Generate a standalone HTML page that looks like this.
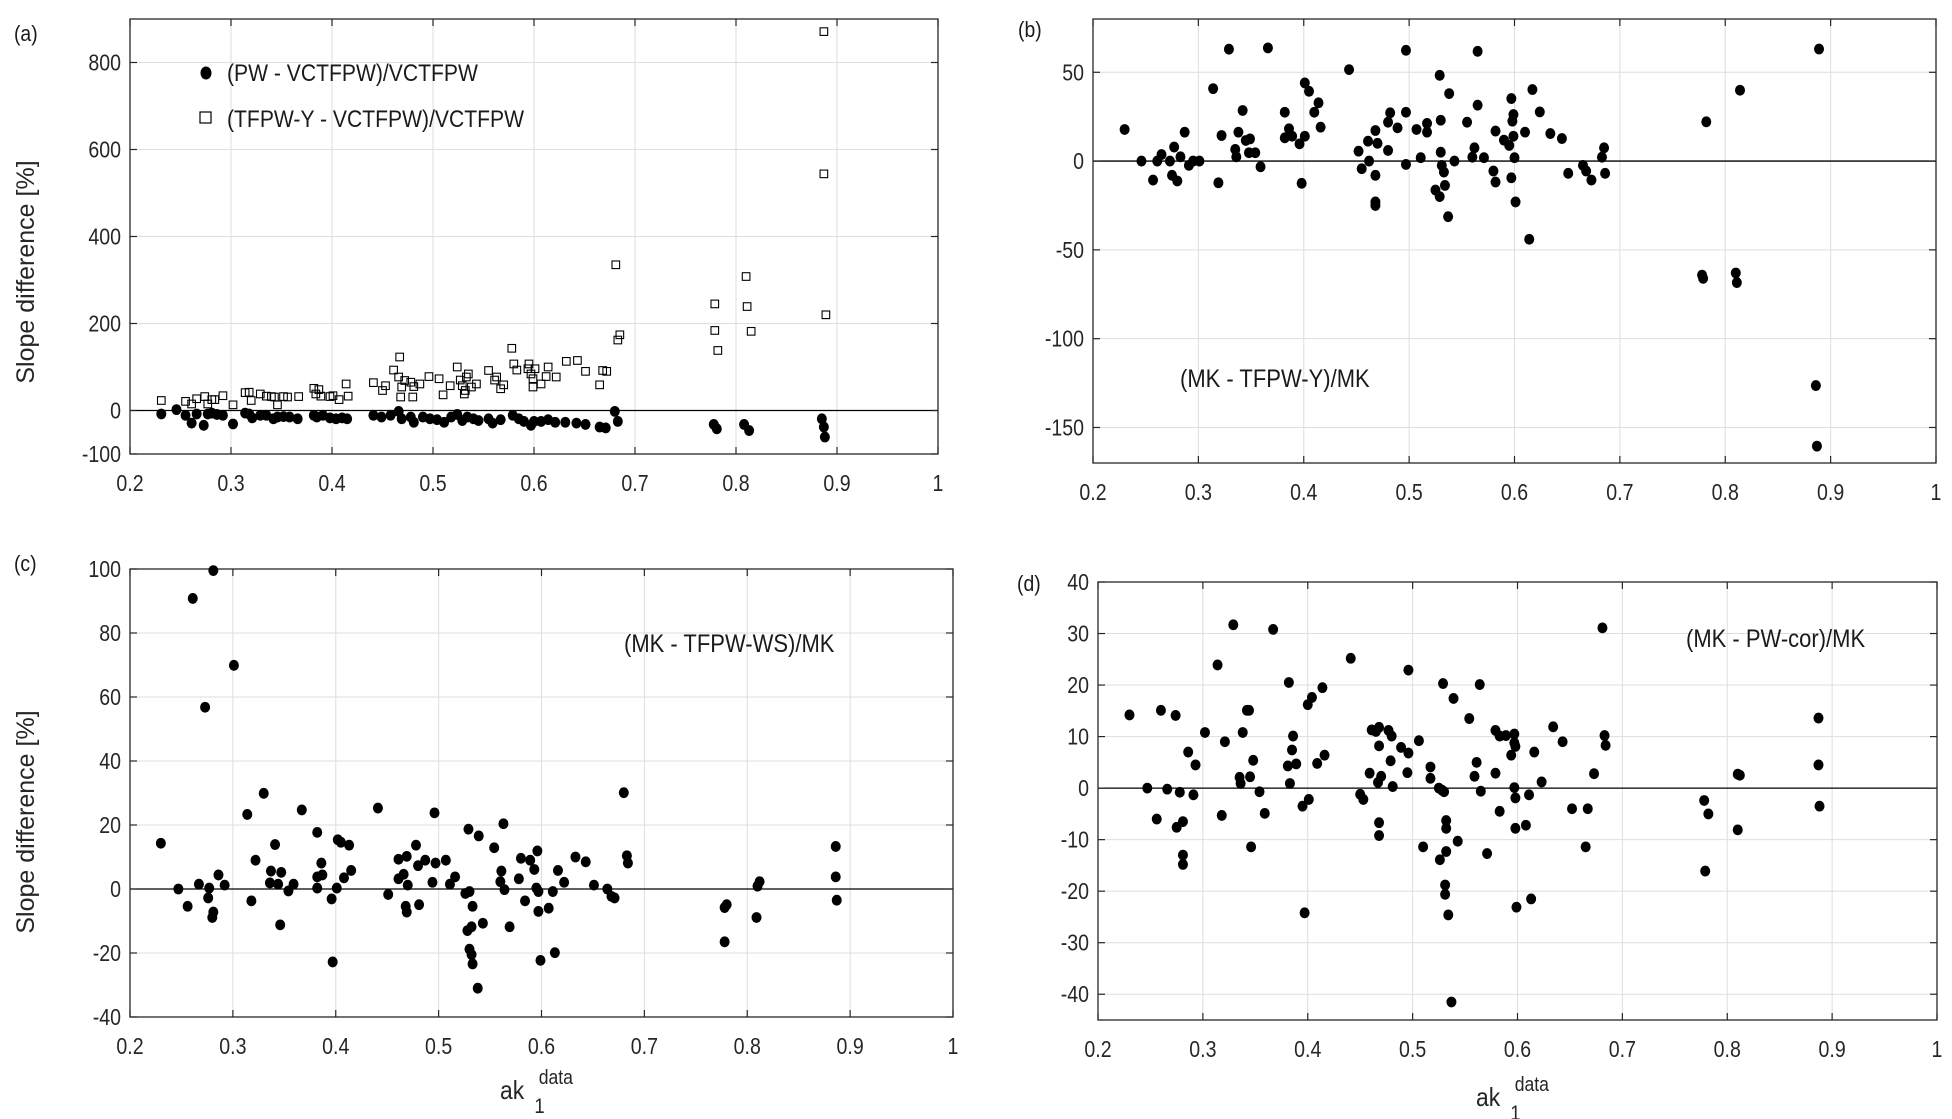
<!DOCTYPE html>
<html><head><meta charset="utf-8"><style>
html,body{margin:0;padding:0;background:#fff;}
svg{display:block;font-family:"Liberation Sans",Arial,sans-serif;}
</style></head><body>
<svg id="fig" width="1952" height="1119" viewBox="0 0 1952 1119" xmlns="http://www.w3.org/2000/svg">
<rect width="1952" height="1119" fill="#fff"/>
</svg>
<script>
// ---------- Data ----------
const aDotX=[.231,.246,.255,.261,.266,.273,.277,.281,.286,.292,.302,.314,.318,.321,.329,.335,.342,.346,.352,.358,.366,.382,.385,.391,.398,.404,.410,.415,.441,.449,.458,.466,.469,.478,.481,.490,.497,.504,.511,.518,.524,.529,.534,.540,.545,.555,.559,.567,.579,.585,.590,.597,.600,.607,.614,.621,.631,.642,.651,.665,.671,.680,.683,.778,.781,.808,.813,.885,.887,.888];
const aDotY=[-8,2,-11,-29,-8,-34,-8,-6,-9,-11,-31,-6,-8,-17,-11,-11,-19,-15,-14,-15,-19,-11,-15,-11,-17,-19,-17,-19,-11,-15,-11,-2,-19,-15,-27,-15,-19,-21,-27,-15,-9,-23,-15,-19,-23,-19,-29,-21,-11,-19,-25,-34,-25,-25,-21,-27,-27,-29,-32,-38,-40,-2,-25,-32,-42,-32,-46,-19,-38,-61];
const aSqX=[.231,.255,.261,.266,.274,.277,.281,.284,.292,.302,.314,.318,.320,.329,.335,.340,.343,.346,.352,.356,.367,.382,.384,.387,.389,.398,.401,.407,.414,.416,.441,.450,.453,.461,.466,.467,.468,.469,.472,.478,.480,.481,.487,.496,.506,.510,.517,.524,.527,.529,.531,.532,.533,.535,.538,.543,.555,.561,.563,.567,.570,.578,.580,.583,.594,.595,.597,.599,.599,.601,.607,.612,.614,.622,.632,.643,.651,.665,.668,.672,.681,.683,.685,.779,.779,.782,.810,.811,.815,.887,.887,.889];
const aSqY=[23,21,15,27,32,15,25,25,34,13,41,42,23,38,33,32,31,13,32,31,32,51,38,48,33,32,34,25,61,33,64,46,57,93,77,123,31,54,69,65,31,55,61,78,73,36,57,100,70,57,38,46,77,84,54,61,92,70,77,50,59,143,107,93,96,107,84,54,73,96,61,78,100,77,113,115,90,59,92,90,335,162,174,245,184,138,308,239,182,871,544,220];

const bX=[.230,.246,.257,.261,.265,.273,.275,.277,.280,.283,.287,.291,.295,.301,.314,.319,.322,.329,.335,.336,.338,.342,.345,.348,.349,.354,.359,.366,.382,.382,.386,.389,.396,.398,.401,.401,.405,.410,.414,.416,.443,.452,.455,.461,.462,.468,.468,.468,.468,.470,.480,.480,.482,.489,.497,.497,.497,.507,.511,.517,.517,.525,.529,.529,.530,.530,.531,.533,.534,.537,.538,.543,.555,.560,.562,.565,.565,.571,.580,.582,.582,.590,.595,.597,.597,.598,.599,.599,.600,.601,.610,.614,.617,.624,.634,.645,.651,.665,.668,.673,.683,.685,.686,.778,.779,.782,.810,.811,.814,.886,.887,.889];
const bY=[17.8,0,-10.7,0,3.7,0,-8,7.9,-11.2,2.4,16.3,-2.4,0,0,40.8,-12.2,14.4,63,6.6,2.4,16.3,28.5,11.6,4.7,12.5,4.7,-3.2,63.7,27.5,13.1,18.2,14,9.7,-12.5,14,44,39.3,27.5,32.8,19.1,51.5,5.6,-4.3,11.2,0,-8,17.2,-23,-25,10,6,21.9,27.2,18.7,-1.9,62.4,27.5,17.8,1.9,21.2,16.3,-16.3,-20,48.3,23,5,-2.4,-6.2,-13.7,-31.3,38,0,21.9,2.2,7.5,61.8,31.5,1.9,-5.6,16.9,-11.8,11.8,8.8,-9.4,35.2,22.5,26.2,14,1.9,-23,16.3,-44,40.3,27.7,15.5,12.7,-6.9,-2.4,-5.6,-10.7,2.2,7.5,-6.9,-64.2,-66,22.1,-63,-68.4,39.9,-126.4,-160.5,63.1];

const cX=[.230,.247,.256,.261,.267,.273,.276,.277,.280,.281,.281,.286,.292,.301,.314,.318,.322,.330,.336,.337,.341,.344,.346,.347,.354,.359,.367,.382,.382,.382,.386,.387,.396,.397,.401,.402,.405,.408,.413,.415,.441,.451,.461,.461,.466,.468,.469,.469,.470,.478,.480,.481,.487,.494,.496,.497,.507,.511,.516,.526,.528,.529,.530,.530,.532,.532,.533,.533,.539,.538,.543,.554,.560,.561,.563,.564,.569,.578,.580,.584,.589,.593,.595,.596,.597,.597,.599,.607,.611,.613,.616,.622,.633,.643,.651,.664,.668,.671,.680,.683,.684,.778,.778,.780,.809,.810,.812,.886,.886,.887];
const cY=[14.3,0,-5.4,90.8,1.5,56.8,-2.8,0.3,-8.9,-7.2,99.5,4.4,1.2,69.9,23.3,-3.7,9,29.9,1.9,5.6,13.9,1.5,-11.2,5.2,-0.6,1.5,24.7,0.3,17.7,3.8,8.1,4.4,-3.1,-22.8,0.3,15.4,14.6,3.5,13.7,5.8,25.3,-1.7,9.3,3.2,4.6,-5.4,-7.2,10.2,1.2,13.7,7.3,-4.9,9,2.1,23.8,8.1,9,1.5,3.8,-1.4,-13,18.7,-0.8,-18.8,-11.8,-20.5,-5.4,-23.4,16.6,-31,-10.7,12.9,2.3,5.6,20.4,-0.2,-11.8,3.2,9.6,-3.7,9,6.1,0.3,11.9,-0.8,-7,-22.3,-6,-0.8,-19.9,5.8,2.1,10,8.5,1.2,0,-2.3,-2.8,30.1,10.4,8.1,-16.5,-5.8,-4.9,-8.9,0.9,2.3,13.3,3.8,-3.5];

const dX=[.230,.247,.256,.260,.266,.274,.275,.278,.281,.281,.281,.286,.291,.293,.302,.314,.318,.321,.329,.335,.336,.338,.342,.344,.345,.346,.348,.354,.359,.367,.381,.382,.383,.385,.386,.389,.395,.397,.400,.401,.404,.409,.414,.416,.441,.450,.453,.459,.461,.465,.467,.468,.468,.468,.468,.470,.477,.479,.480,.481,.489,.495,.496,.496,.506,.510,.517,.517,.525,.526,.528,.529,.530,.531,.531,.532,.532,.532,.534,.537,.539,.543,.554,.559,.561,.564,.565,.571,.579,.579,.583,.583,.589,.594,.597,.597,.597,.598,.598,.598,.599,.608,.611,.613,.616,.623,.634,.643,.652,.665,.667,.673,.681,.683,.684,.778,.779,.782,.810,.810,.812,.887,.887,.888];
const dY=[14.2,0,-6,15.1,-0.2,14.1,-7.6,-0.8,-6.5,-13,-14.8,7,-1.3,4.5,10.8,23.9,-5.3,9,31.7,2.1,0.9,10.8,15.1,15.1,2.2,-11.4,5.4,-0.7,-4.9,30.8,4.3,20.5,0.9,7.4,10.1,4.7,-3.5,-24.2,16.2,-2.2,17.6,4.8,19.5,6.4,25.2,-1.2,-2.2,2.9,11.3,11,1.1,11.8,8.2,-6.7,-9.2,2.3,11.2,5.3,10.1,0.3,7.9,3,6.8,22.9,9.2,-11.4,4.1,1.9,0,-13.9,-0.4,20.3,-0.7,-18.8,-20.6,-6.3,-7.8,-12.3,-24.6,-41.5,17.4,-10.3,13.5,2.3,5,20.1,-0.6,-12.7,2.9,11.2,-4.5,10.1,10.2,6.4,8.8,10.5,0.1,8.1,-1.9,-7.8,-23.1,-7.2,-1.3,-21.5,7,1.2,11.9,9,-4,-11.4,-4,2.8,31.1,10.2,8.3,-2.4,-16.1,-5,-8.1,2.7,2.5,13.6,4.5,-3.5];

const xTicks=[0.2,0.3,0.4,0.5,0.6,0.7,0.8,0.9,1];
const xTickLabels=["0.2","0.3","0.4","0.5","0.6","0.7","0.8","0.9","1"];
const aYTicks=[-100,0,200,400,600,800];
const bYTicks=[-150,-100,-50,0,50];
const cYTicks=[-40,-20,0,20,40,60,80,100];
const dYTicks=[-40,-30,-20,-10,0,10,20,30,40];

// ---------- Drawing ----------
const NS="http://www.w3.org/2000/svg";
const svg=document.getElementById('fig');
function mk(tag,attrs,parent){const e=document.createElementNS(NS,tag);for(const k in attrs)e.setAttribute(k,attrs[k]);(parent||svg).appendChild(e);return e;}

function panel(id,box,ymin,ymax,yTicks){
  const g=mk('g',{});
  
  
  const sx=v=>box.x0+(v-0.2)/0.8*(box.x1-box.x0);
  const sy=v=>box.y1-(v-ymin)/(ymax-ymin)*(box.y1-box.y0);
  xTicks.forEach(t=>{if(t>0.2&&t<1){const l=mk('line',{x1:sx(t),x2:sx(t),y1:box.y0,y2:box.y1,stroke:'#dedede','stroke-width':1},g);
    
    }});
  yTicks.forEach(t=>{if(t>ymin&&t<ymax){const l=mk('line',{x1:box.x0,x2:box.x1,y1:sy(t),y2:sy(t),stroke:'#dedede','stroke-width':1},g);
    
    }});
  const z=mk('line',{x1:box.x0,x2:box.x1,y1:sy(0),y2:sy(0),stroke:'#000','stroke-width':1.3},g);
  
  
  const fr=mk('rect',{x:box.x0,y:box.y0,width:box.x1-box.x0,height:box.y1-box.y0,fill:'none',stroke:'#262626','stroke-width':1.3},g);
  
  
  xTicks.forEach((t,i)=>{
    mk('line',{x1:sx(t),x2:sx(t),y1:box.y1,y2:box.y1-7,stroke:'#262626','stroke-width':1.2},g);
    mk('line',{x1:sx(t),x2:sx(t),y1:box.y0,y2:box.y0+7,stroke:'#262626','stroke-width':1.2},g);
    const tx=mk('text',{x:sx(t),y:box.y1+37,'text-anchor':'middle','font-size':23,fill:'#262626',transform:'translate('+sx(t)+' 0) scale(0.85 1) translate('+(-sx(t))+' 0)'},g);
    tx.textContent=xTickLabels[i];
    
    
  });
  yTicks.forEach(t=>{
    mk('line',{x1:box.x0,x2:box.x0+7,y1:sy(t),y2:sy(t),stroke:'#262626','stroke-width':1.2},g);
    mk('line',{x1:box.x1,x2:box.x1-7,y1:sy(t),y2:sy(t),stroke:'#262626','stroke-width':1.2},g);
    const ax=box.x0-9;
    const tx=mk('text',{x:ax,y:sy(t)+8,'text-anchor':'end','font-size':23,fill:'#262626',transform:'translate('+ax+' 0) scale(0.85 1) translate('+(-ax)+' 0)'},g);
    tx.textContent=String(t);
    
    
  });
  return {g,sx,sy};
}
function dots(p,xs,ys){
  xs.forEach((x,i)=>{
    const c=mk('ellipse',{cx:p.sx(x),cy:p.sy(ys[i]),rx:5,ry:5.4,fill:'#000'},p.g);
    
    
  });
}
function squares(p,xs,ys){
  xs.forEach((x,i)=>{
    const r=mk('rect',{x:p.sx(x)-3.8,y:p.sy(ys[i])-3.8,width:7.6,height:7.6,fill:'none',stroke:'#000','stroke-width':1.1},p.g);
    
    
  });
}
function label(txt,x,y,size,name,sx){
  const s=sx||0.88;
  const t=mk('text',{x:x,y:y,'font-size':size,fill:'#1a1a1a',transform:'translate('+x+' 0) scale('+s+' 1) translate('+(-x)+' 0)'});
  t.textContent=txt;
  
  
  return t;
}

const pa=panel('a',{x0:130,x1:938,y0:19,y1:454},-100,900,aYTicks);
squares(pa,aSqX,aSqY);
dots(pa,aDotX,aDotY);
const pb=panel('b',{x0:1093,x1:1936,y0:19,y1:463},-170,80,bYTicks);
dots(pb,bX,bY);
const pc=panel('c',{x0:130,x1:953,y0:569,y1:1017},-40,100,cYTicks);
dots(pc,cX,cY);
const pd=panel('d',{x0:1098,x1:1937,y0:582,y1:1020},-45,40,dYTicks);
dots(pd,dX,dY);

const ld=mk('ellipse',{cx:206,cy:73,rx:5.5,ry:6.5,fill:'#000'});


label('(PW - VCTFPW)/VCTFPW',227,81,24,'legend-entry-pw');
const ls=mk('rect',{x:200,y:112,width:11,height:11,fill:'none',stroke:'#000','stroke-width':1.2});


label('(TFPW-Y - VCTFPW)/VCTFPW',227,127,24,'legend-entry-tfpw-y');

label('(a)',14,41,22,'panel-label-a');
label('(b)',1018,37,22,'panel-label-b');
label('(c)',14,571,22,'panel-label-c');
label('(d)',1017,591,22,'panel-label-d');

label('(MK - TFPW-Y)/MK',1180,387,25,'annotation-b');
label('(MK - TFPW-WS)/MK',624,652,25,'annotation-c');
label('(MK - PW-cor)/MK',1686,647,25,'annotation-d');

const ya=mk('text',{x:0,y:0,'font-size':25,fill:'#262626','text-anchor':'middle',transform:'translate(34,272) rotate(-90)'});
ya.textContent='Slope difference [%]';


const yc=mk('text',{x:0,y:0,'font-size':25,fill:'#262626','text-anchor':'middle',transform:'translate(34,822) rotate(-90)'});
yc.textContent='Slope difference [%]';



function xTitle(x,y,name){
  const g=mk('g',{transform:'translate('+x+' 0) scale(0.88 1) translate('+(-x)+' 0)'});
  
  
  const a=mk('text',{x:x,y:y,'font-size':26,fill:'#262626'},g);a.textContent='ak';
  const s=mk('text',{x:x+39,y:y+14,'font-size':21,fill:'#262626'},g);s.textContent='1';
  const p=mk('text',{x:x+44,y:y-15,'font-size':20,fill:'#262626'},g);p.textContent='data';
}
xTitle(500,1099,'x-axis-title-c');
xTitle(1476,1106,'x-axis-title-d');
</script>
</body></html>
